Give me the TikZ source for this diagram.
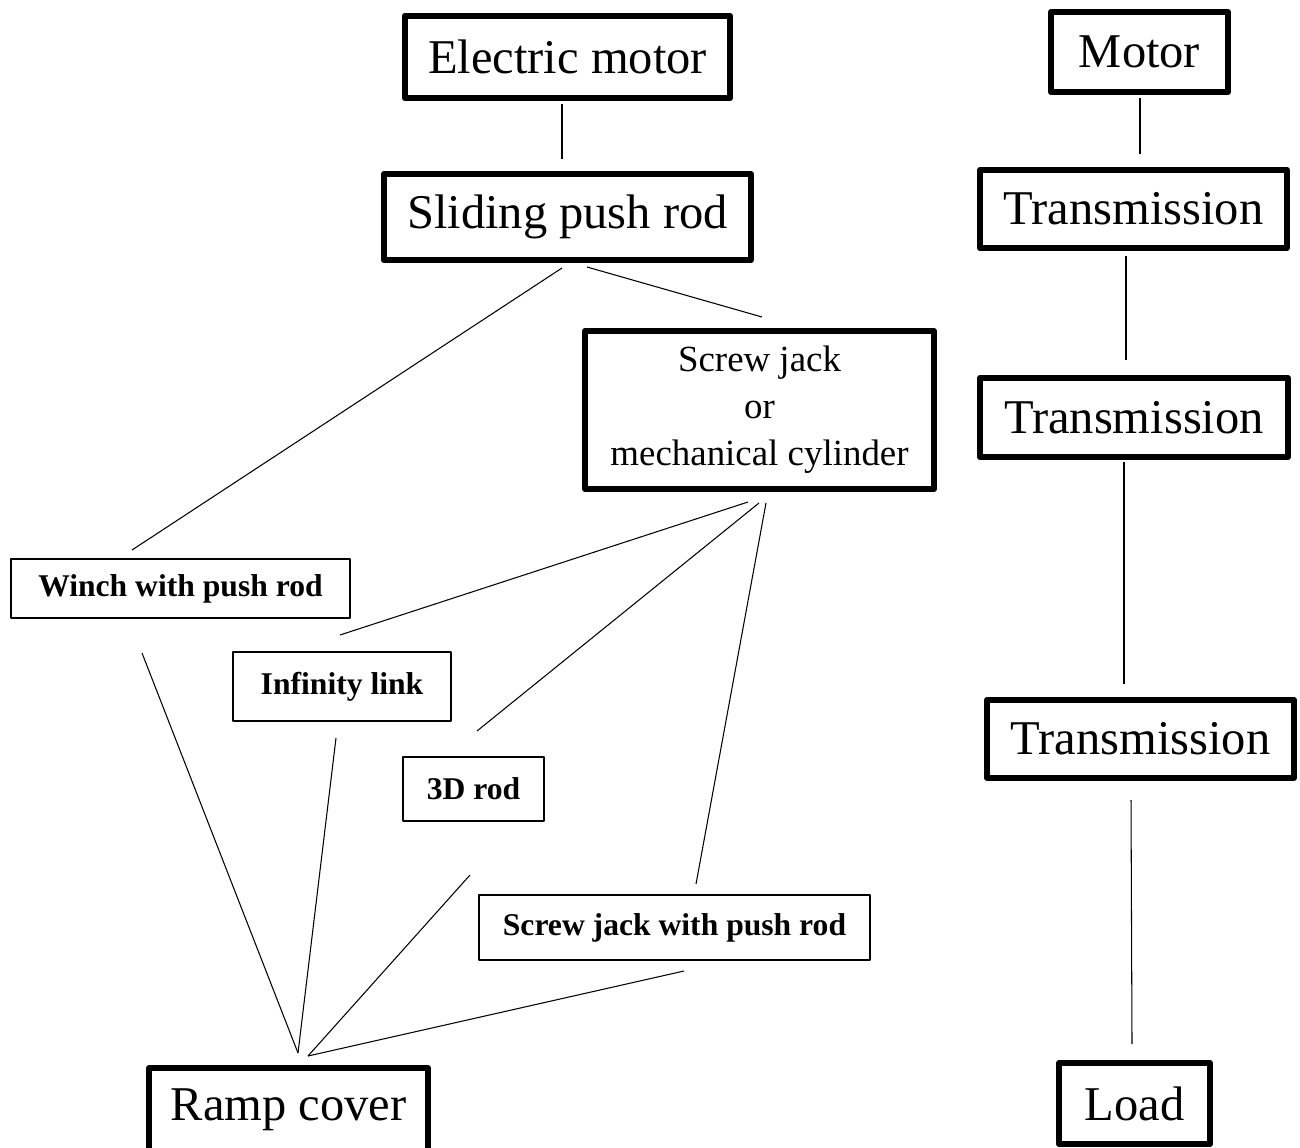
\documentclass[tikz,border=0pt]{standalone}
\usepackage{fontspec}
\setmainfont{Liberation Serif}
\begin{document}
\begin{tikzpicture}[x=0.02cm, y=-0.02cm, line join=round,
        bigbox/.style={draw, line width=3.4pt, inner sep=0pt, font=\fontsize{27.6}{33}\selectfont},
        smallbox/.style={draw, line width=1.1pt, inner sep=0pt, font=\fontsize{18}{22}\selectfont\bfseries},
        link/.style={line width=0.6pt}]
        \useasboundingbox (0,0) rectangle (1300,1148);
        % left chain
        \node[bigbox, minimum width=6.52cm, minimum height=1.64cm] (em) at (567.5,57) {Electric motor};
        \node[bigbox, minimum width=7.34cm, minimum height=1.72cm] (spr) at (567.5,217) {Sliding push rod};
        \node[bigbox, minimum width=6.98cm, minimum height=3.16cm, align=center,
              font=\fontsize{21}{26.7}\selectfont] (sj) at (759.5,410) {Screw jack\\or\\mechanical cylinder};
        \node[smallbox, minimum width=6.78cm, minimum height=1.18cm] (winch) at (180.5,588.5) {Winch with push rod};
        \node[smallbox, minimum width=4.36cm, minimum height=1.38cm] (inf) at (342,686.5) {Infinity link};
        \node[smallbox, minimum width=2.82cm, minimum height=1.28cm] (rod) at (473.5,789) {3D rod};
        \node[smallbox, minimum width=7.82cm, minimum height=1.30cm] (sjpr) at (674.5,927.5) {Screw jack with push rod};
        \node[bigbox, minimum width=5.58cm, minimum height=1.68cm] (ramp) at (288.5,1110) {Ramp cover};
        % right chain
        \node[bigbox, minimum width=3.54cm, minimum height=1.60cm] (motor) at (1139.5,52) {Motor};
        \node[bigbox, minimum width=6.14cm, minimum height=1.56cm] (t1) at (1133.5,209) {Transmission};
        \node[bigbox, minimum width=6.16cm, minimum height=1.58cm] (t2) at (1134,417.5) {Transmission};
        \node[bigbox, minimum width=6.14cm, minimum height=1.56cm] (t3) at (1140.5,739) {Transmission};
        \node[bigbox, minimum width=3.02cm, minimum height=1.62cm] (load) at (1134.5,1103.5) {Load};
        % loose ends of the links
        \coordinate (em-s) at (562,104);     \coordinate (spr-n) at (562,159);
        \coordinate (spr-sw) at (562,268);   \coordinate (winch-n) at (132,550);
        \coordinate (spr-se) at (587,267);   \coordinate (sj-n) at (762,317);
        \coordinate (sj-s1) at (748,502);    \coordinate (inf-n) at (340,635);
        \coordinate (sj-s2) at (759,503);    \coordinate (rod-n) at (477,731);
        \coordinate (sj-s3) at (766,503);    \coordinate (sjpr-n) at (696,884);
        \coordinate (winch-s) at (142,653);  \coordinate (inf-s) at (336,738);
        \coordinate (rod-s) at (470,875);    \coordinate (sjpr-s) at (684,971);
        \coordinate (ramp-n1) at (298,1053); \coordinate (ramp-n2) at (308,1056);
        \coordinate (motor-s) at (1140,98);  \coordinate (t1-n) at (1140,154);
        \coordinate (t1-s) at (1126,256);    \coordinate (t2-n) at (1126,360);
        \coordinate (t2-s) at (1124,462);    \coordinate (t3-n) at (1124,684);
        \coordinate (t3-s) at (1131,800);    \coordinate (load-n) at (1132,1044);
        \draw[link] (em-s) -- (spr-n);
        \draw[link] (spr-sw) -- (winch-n);
        \draw[link] (spr-se) -- (sj-n);
        \draw[link] (sj-s1) -- (inf-n);
        \draw[link] (sj-s2) -- (rod-n);
        \draw[link] (sj-s3) -- (sjpr-n);
        \draw[link] (winch-s) -- (ramp-n1);
        \draw[link] (inf-s) -- (ramp-n1);
        \draw[link] (rod-s) -- (ramp-n2);
        \draw[link] (sjpr-s) -- (ramp-n2);
        \draw[link] (motor-s) -- (t1-n);
        \draw[link] (t1-s) -- (t2-n);
        \draw[link] (t2-s) -- (t3-n);
        \draw[link] (t3-s) -- (load-n);
    \end{tikzpicture}
\end{document}
